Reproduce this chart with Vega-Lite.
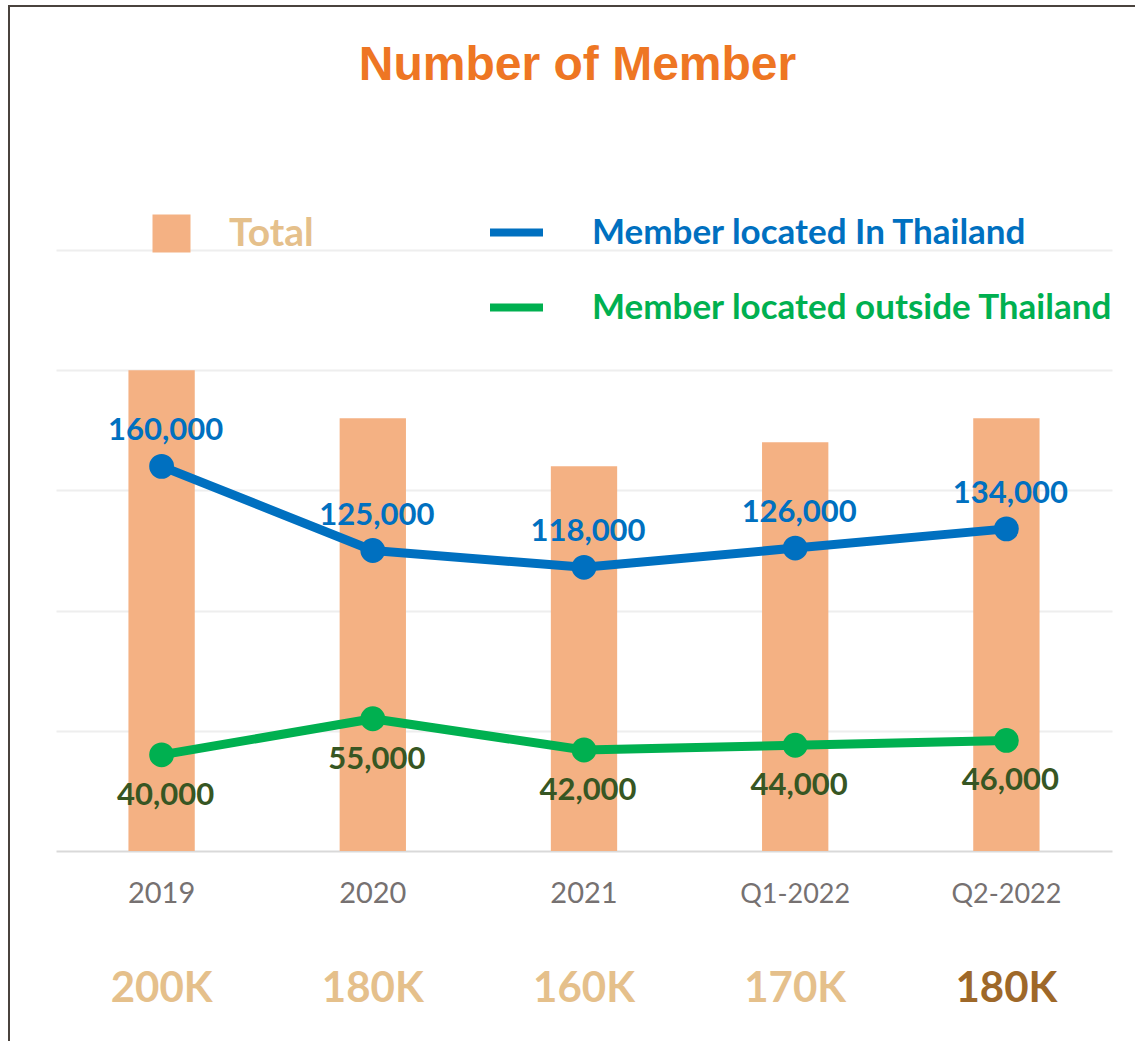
{
  "$schema": "https://vega.github.io/schema/vega-lite/v6.json",
  "autosize": {"type": "none"},
  "padding": {"left": 9, "top": 6, "right": -3, "bottom": -3},
  "width": 1129,
  "height": 1038,
  "background": "white",
  "title": {
    "text": "Number of Member",
    "font": "Liberation Sans",
    "fontWeight": "bold",
    "fontSize": 48,
    "color": "#ee7623",
    "anchor": "middle",
    "frame": "group",
    "orient": "top",
    "baseline": "alphabetic",
    "offset": 0,
    "dx": 4,
    "dy": 122
  },
  "config": {
    "view": {"stroke": "#4a433e", "strokeWidth": 2},
    "legend": {"padding": 0, "offset": 0, "titlePadding": 0}
  },
  "datasets": {
    "totals": [
      {"period": "2019", "total": 200000},
      {"period": "2020", "total": 180000},
      {"period": "2021", "total": 160000},
      {"period": "Q1-2022", "total": 170000},
      {"period": "Q2-2022", "total": 180000}
    ],
    "members": [
      {"period": "2019", "series": "Member located In Thailand", "value": 160000},
      {"period": "2020", "series": "Member located In Thailand", "value": 125000},
      {"period": "2021", "series": "Member located In Thailand", "value": 118000},
      {"period": "Q1-2022", "series": "Member located In Thailand", "value": 126000},
      {"period": "Q2-2022", "series": "Member located In Thailand", "value": 134000},
      {"period": "2019", "series": "Member located outside Thailand", "value": 40000},
      {"period": "2020", "series": "Member located outside Thailand", "value": 55000},
      {"period": "2021", "series": "Member located outside Thailand", "value": 42000},
      {"period": "Q1-2022", "series": "Member located outside Thailand", "value": 44000},
      {"period": "Q2-2022", "series": "Member located outside Thailand", "value": 46000}
    ]
  },
  "layer": [
    {
      "data": {"name": "totals"},
      "mark": {"type": "bar", "width": {"band": 0.314}},
      "encoding": {
        "x": {
          "field": "period",
          "type": "nominal",
          "sort": null,
          "scale": {"type": "band", "range": [47, 1103], "paddingInner": 0, "paddingOuter": 0},
          "axis": {
            "title": null,
            "domain": true,
            "domainColor": "#d9d9d9",
            "domainWidth": 2,
            "ticks": false,
            "tickSize": 0,
            "grid": false,
            "labelAngle": 0,
            "labelFont": "Lato",
            "labelColor": "#767171",
            "labelFontSize": {"condition": {"test": "indexof(datum.label, 'Q') === 0", "value": 27}, "value": 29},
            "labelBaseline": "alphabetic",
            "labelPadding": 51,
            "offset": -193
          }
        },
        "y": {
          "field": "total",
          "type": "quantitative",
          "scale": {"domain": [0, 250000], "range": [845, 244], "nice": false, "zero": true},
          "axis": {
            "title": null,
            "labels": false,
            "ticks": false,
            "domain": false,
            "grid": true,
            "gridColor": "#eeeeee",
            "gridWidth": 2,
            "values": [50000, 100000, 150000, 200000, 250000]
          }
        },
        "fill": {
          "datum": "Total",
          "type": "nominal",
          "scale": {"range": ["#f4b183"]},
          "legend": {
            "title": null,
            "orient": "none",
            "legendX": 143,
            "legendY": 208,
            "symbolType": "square",
            "symbolSize": 1444,
            "symbolStrokeWidth": 0,
            "labelFont": "Lato",
            "labelFontWeight": "bold",
            "labelFontSize": 39,
            "labelColor": "#e5c08b",
            "labelOffset": 38,
            "labelLimit": 500
          }
        }
      }
    },
    {
      "data": {"name": "members"},
      "mark": {"type": "line", "strokeWidth": 9, "strokeJoin": "round", "strokeCap": "round"},
      "encoding": {
        "x": {"field": "period", "type": "nominal", "sort": null},
        "y": {"field": "value", "type": "quantitative"},
        "stroke": {
          "field": "series",
          "type": "nominal",
          "scale": {
            "domain": ["Member located In Thailand", "Member located outside Thailand"],
            "range": ["#0070c0", "#00b050"]
          },
          "legend": {
            "title": null,
            "orient": "none",
            "legendX": 477,
            "legendY": 196,
            "symbolType": "stroke",
            "symbolSize": 2809,
            "symbolStrokeWidth": 8,
            "rowPadding": 26,
            "labelFont": "Lato",
            "labelFontWeight": "bold",
            "labelFontSize": 35,
            "labelOffset": 45,
            "labelLimit": 1000,
            "labelColor": {"expr": "datum.label === 'Member located In Thailand' ? '#0070c0' : '#00b050'"}
          }
        }
      }
    },
    {
      "data": {"name": "members"},
      "mark": {"type": "circle", "size": 616, "opacity": 1},
      "encoding": {
        "x": {"field": "period", "type": "nominal", "sort": null},
        "y": {"field": "value", "type": "quantitative"},
        "color": {
          "field": "series",
          "type": "nominal",
          "scale": {
            "domain": ["Member located In Thailand", "Member located outside Thailand"],
            "range": ["#0070c0", "#00b050"]
          },
          "legend": null
        }
      }
    },
    {
      "data": {"name": "members"},
      "transform": [{"filter": "datum.series === 'Member located In Thailand'"}],
      "mark": {"type": "text", "font": "Lato", "fontWeight": "bold", "fontSize": 31, "color": "#0070c0", "baseline": "alphabetic", "dy": -26, "dx": 4},
      "encoding": {
        "x": {"field": "period", "type": "nominal", "sort": null},
        "y": {"field": "value", "type": "quantitative"},
        "text": {"field": "value", "type": "quantitative", "format": ","}
      }
    },
    {
      "data": {"name": "members"},
      "transform": [{"filter": "datum.series === 'Member located outside Thailand'"}],
      "mark": {"type": "text", "font": "Lato", "fontWeight": "bold", "fontSize": 31, "color": "#375623", "baseline": "alphabetic", "dy": 50, "dx": 4},
      "encoding": {
        "x": {"field": "period", "type": "nominal", "sort": null},
        "y": {"field": "value", "type": "quantitative"},
        "text": {"field": "value", "type": "quantitative", "format": ","}
      }
    },
    {
      "data": {"name": "totals"},
      "transform": [{"calculate": "format(datum.total / 1000, 'd') + 'K'", "as": "totalLabel"}],
      "mark": {"type": "text", "font": "Lato", "fontWeight": "bold", "fontSize": 42, "baseline": "alphabetic", "dy": 151},
      "encoding": {
        "x": {"field": "period", "type": "nominal", "sort": null},
        "y": {"datum": 0, "type": "quantitative"},
        "text": {"field": "totalLabel"},
        "color": {"condition": {"test": "datum.period === 'Q2-2022'", "value": "#9e6829"}, "value": "#e5c08b"}
      }
    }
  ]
}
